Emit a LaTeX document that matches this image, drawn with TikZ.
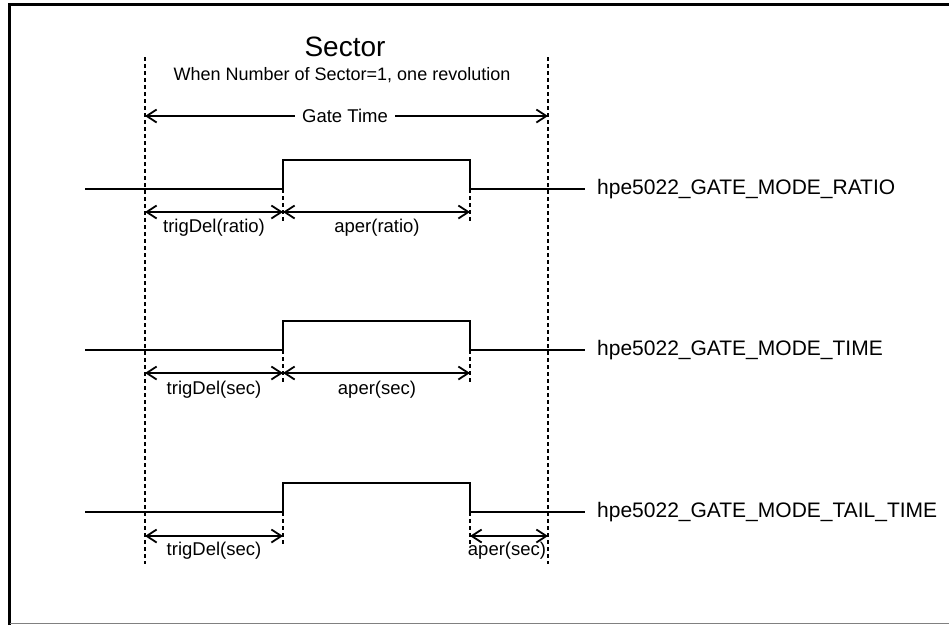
\documentclass[tikz,border=0pt]{standalone}
\usepackage{fontspec}
\setmainfont{Liberation Sans}
\usetikzlibrary{arrows.meta}

\begin{document}
\begin{tikzpicture}[x=1pt,y=-1pt,
  sig/.style={line width=2.4pt},
  guide/.style={line width=1.8pt, dash pattern=on 4pt off 3pt},
  dim/.style={line width=1.8pt, {Straight Barb[length=10pt,width=13pt]}-{Straight Barb[length=10pt,width=13pt]}},
  lbl/.style={font=\fontsize{18.5}{20}\selectfont, inner sep=1pt},
  mode/.style={font=\fontsize{21}{24}\selectfont, anchor=west, inner sep=0pt}]
\useasboundingbox (0,0) rectangle (949,625);
\draw[line width=3pt] (9.5,625) -- (9.5,4.5) -- (949,4.5);
\draw[gray, line width=1pt] (9.5,623.5) -- (949,623.5);

\node[font=\fontsize{28}{30}\selectfont] (sector) at (345,47) {Sector};
\node[font=\fontsize{18}{20}\selectfont] (note) at (342,75) {When Number of Sector=1, one revolution};

\coordinate (gl) at (145,57);
\coordinate (glb) at (145,564);
\coordinate (gr) at (548,57);
\coordinate (grb) at (548,564);
\draw[guide] (gl) -- (glb);
\draw[guide] (gr) -- (grb);

\coordinate (gta) at (145,116);
\coordinate (gtb) at (548,116);
\draw[dim] (gta) -- (gtb);
\node[lbl, fill=white, inner xsep=7pt] (gate) at (345,116) {Gate Time};

\node[mode] (mratio) at (597,189) {hpe5022\_GATE\_MODE\_RATIO};
\node[mode] (mtime) at (597,350) {hpe5022\_GATE\_MODE\_TIME};
\node[mode] (mtail) at (597,512) {hpe5022\_GATE\_MODE\_TAIL\_TIME};

\draw[sig] (85,189) -- (283,189) -- (283,160) -- (470,160) -- (470,189) -- ([xshift=-12pt]mratio.west);
\draw[guide] (283,189) coordinate (r1) -- (283,222);
\draw[guide] (470,189) coordinate (r2) -- (470,222);
\coordinate (ra) at (145,212);
\coordinate (rb) at (283,212);
\coordinate (rc) at (470,212);
\draw[dim] (ra) -- (rb);
\draw[dim] (rb) -- (rc);
\node[lbl] (rdel) at (214,228) {trigDel(ratio)};
\node[lbl] (raper) at (377,228) {aper(ratio)};

\draw[sig] (85,350) -- (283,350) -- (283,321) -- (470,321) -- (470,350) -- ([xshift=-12pt]mtime.west);
\draw[guide] (283,350) coordinate (s1) -- (283,383);
\draw[guide] (470,350) coordinate (s2) -- (470,383);
\coordinate (sa) at (145,373);
\coordinate (sb) at (283,373);
\coordinate (sc) at (470,373);
\draw[dim] (sa) -- (sb);
\draw[dim] (sb) -- (sc);
\node[lbl] (sdel) at (214,390) {trigDel(sec)};
\node[lbl] (saper) at (377,390) {aper(sec)};

\draw[sig] (85,512) -- (283,512) -- (283,483) -- (470,483) -- (470,512) -- ([xshift=-12pt]mtail.west);
\draw[guide] (283,512) coordinate (t1) -- (283,544);
\draw[guide] (470,512) coordinate (t2) -- (470,545);
\coordinate (ta) at (145,536);
\coordinate (tb) at (283,536);
\coordinate (tc) at (470,536);
\coordinate (td) at (548,536);
\draw[dim] (ta) -- (tb);
\draw[dim] (tc) -- (td);
\node[lbl] (tdel) at (214,551) {trigDel(sec)};
\node[lbl] (taper) at (507,551) {aper(sec)};
\end{tikzpicture}
\end{document}
